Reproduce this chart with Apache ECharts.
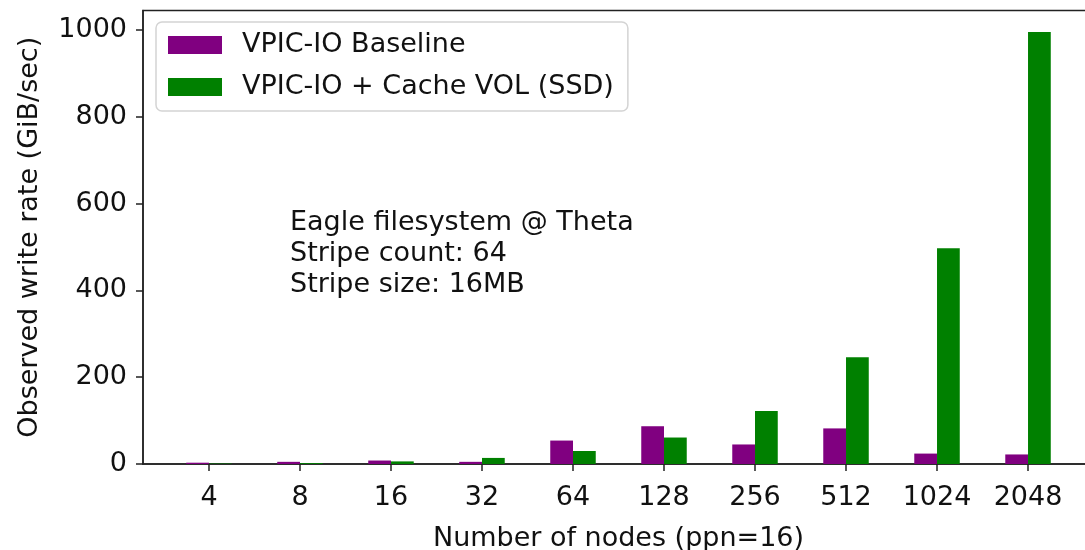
<!DOCTYPE html>
<html>
<head>
<meta charset="utf-8">
<script src="https://cdn.jsdelivr.net/npm/echarts@6/dist/echarts.min.js"></script>
<style>
  html, body { margin: 0; padding: 0; background: #fff; }
  #chart { width: 1085px; height: 550px; }
</style>
</head>
<body>
<div id="chart"></div>
<script>
// node counts on the x axis
var nodes = ['4', '8', '16', '32', '64', '128', '256', '512', '1024', '2048'];
// observed write rate, GiB/sec
var baseline = [3, 5, 8, 5, 54, 87, 45, 82, 24, 22];
var cacheVol = [1, 2, 6, 14, 30, 61, 122, 246, 497, 995];
var yTicks = [0, 200, 400, 600, 800, 1000];
var noteLines = ['Eagle filesystem @ Theta', 'Stripe count: 64', 'Stripe size: 16MB'];

var FONT = 'DejaVu Sans';

function pairs(arr) {
    return arr.map(function (v, i) { return [i, v]; });
}

var myChart = echarts.init(document.getElementById('chart'));

myChart.setOption({
    animation: false,
    textStyle: { fontFamily: FONT },
    grid: {
        left: 143,
        top: 10.5,
        bottom: 86,
        width: 951,   // right spine falls just outside the picture
        outerBoundsMode: 'none',
        show: true,
        borderColor: '#222',
        borderWidth: 1.5
    },
    legend: {
        orient: 'vertical',
        left: 156,
        top: 22,
        padding: [8, 14, 9, 12],
        itemWidth: 54,
        itemHeight: 18,
        itemGap: 12,
        icon: 'rect',
        borderColor: '#d4d4d4',
        borderWidth: 1.5,
        borderRadius: 6,
        backgroundColor: 'rgba(255,255,255,0.8)',
        textStyle: { fontFamily: FONT, fontSize: 27, color: '#111', lineHeight: 30, padding: [0, 0, 0, 15] },
        data: ['VPIC-IO Baseline', 'VPIC-IO + Cache VOL (SSD)']
    },
    xAxis: {
        type: 'value',
        min: -0.725,
        max: 9.725,
        name: 'Number of nodes (ppn=16)',
        nameLocation: 'middle',
        nameGap: 61,
        nameTextStyle: { fontFamily: FONT, fontSize: 27, color: '#111' },
        splitLine: { show: false },
        axisLine: { show: true, onZero: false, lineStyle: { color: '#222', width: 1.5 } },
        axisTick: { show: true, inside: false, length: 7, customValues: [0, 1, 2, 3, 4, 5, 6, 7, 8, 9], lineStyle: { color: '#222', width: 1.5 } },
        axisLabel: {
            fontFamily: FONT, fontSize: 27, color: '#111', margin: 20,
            customValues: [0, 1, 2, 3, 4, 5, 6, 7, 8, 9],
            formatter: function (v) { return nodes[Math.round(v)]; }
        }
    },
    yAxis: {
        type: 'value',
        min: 0,
        max: 1044.75,
        name: 'Observed write rate (GiB/sec)',
        nameLocation: 'middle',
        nameGap: 100,
        nameTextStyle: { fontFamily: FONT, fontSize: 27, color: '#111' },
        splitLine: { show: false },
        axisLine: { show: true, onZero: false, lineStyle: { color: '#222', width: 1.5 } },
        axisTick: { show: true, inside: false, length: 7, customValues: yTicks, lineStyle: { color: '#222', width: 1.5 } },
        axisLabel: {
            fontFamily: FONT, fontSize: 27, color: '#111', margin: 16, customValues: yTicks,
            formatter: function (v) { return String(v); }
        }
    },
    graphic: [{
        type: 'text',
        left: 290,
        top: 207,
        style: {
            text: noteLines.join('\n'),
            font: '27px "DejaVu Sans"',
            lineHeight: 31,
            fill: '#111'
        }
    }],
    series: [
        {
            name: 'VPIC-IO Baseline',
            type: 'bar',
            barWidth: 22.75,
            barGap: '0%',
            itemStyle: { color: '#800080' },
            data: pairs(baseline)
        },
        {
            name: 'VPIC-IO + Cache VOL (SSD)',
            type: 'bar',
            barWidth: 22.75,
            barGap: '0%',
            itemStyle: { color: '#008000' },
            data: pairs(cacheVol)
        }
    ]
});
</script>
</body>
</html>
